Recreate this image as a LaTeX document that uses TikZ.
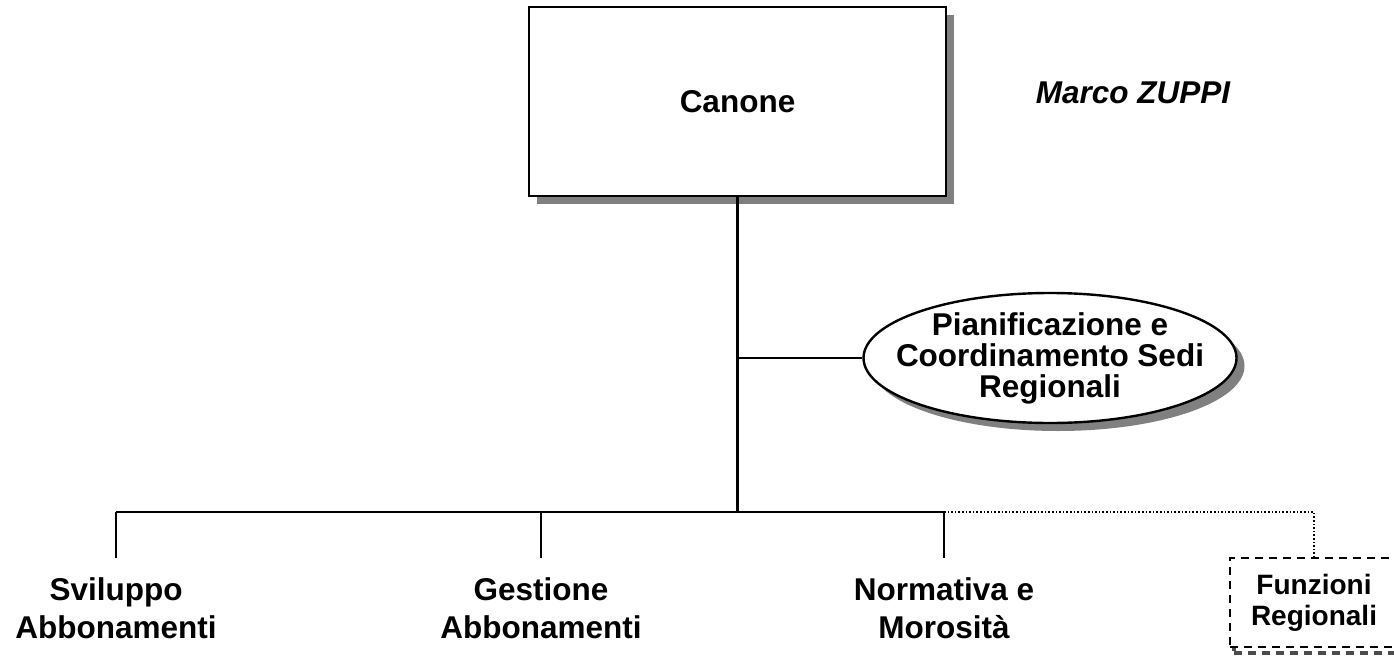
\documentclass[tikz,border=0pt]{standalone}
\usepackage{fontspec}
\setmainfont{Liberation Sans}
\usetikzlibrary{shapes.geometric,shadows}
\begin{document}
\begin{tikzpicture}[x=1pt,y=-1pt,
  lbl/.style={font=\fontsize{31.5}{38}\selectfont\bfseries, align=center},
  leaf/.style={lbl, anchor=north, inner xsep=0pt, inner ysep=19pt},
  shad/.style={drop shadow={shadow xshift=8pt, shadow yshift=-8pt, fill=black!50, opacity=1}},
  conn/.style={line width=2.2pt},
]
\useasboundingbox (0,0) rectangle (1394,661);
% top box
\node[lbl, draw, line width=2.4pt, fill=white, shad, minimum width=417pt, minimum height=189pt, inner sep=0pt] (can) at (737.5,101.5) {Canone};
% author
\node[font=\fontsize{31.5}{38}\selectfont\bfseries\itshape, anchor=base, inner sep=0pt] (auth) at (1133,103) {Marco ZUPPI};
% staff ellipse
\node[ellipse, draw, line width=2.4pt, fill=white, shad, minimum width=373pt, minimum height=130pt, inner xsep=-24pt, inner ysep=-4pt,
      font=\fontsize{31.5}{31}\selectfont\bfseries, align=center] (pcs) at (1050,358) {Pianificazione e\\Coordinamento Sedi\\Regionali};
% leaves
\node[leaf] (sv) at (116,558) {Sviluppo\\Abbonamenti};
\node[leaf] (ge) at (541,558) {Gestione\\Abbonamenti};
\node[leaf] (no) at (944,558) {Normativa e\\Morosità};
% regional functions box
\node[draw, dash pattern=on 8pt off 6pt, line width=2.4pt, fill=white,
      drop shadow={shadow xshift=4pt, shadow yshift=-6pt, fill=none, draw=black!70, line width=4pt, dash pattern=on 8pt off 6pt, opacity=1},
      minimum width=168pt, minimum height=89pt, inner sep=0pt,
      font=\fontsize{28}{31}\selectfont\bfseries, align=center] (fr) at (1314,602.5) {Funzioni\\Regionali};
% bus
\coordinate (b1) at (116,512);
\coordinate (b2) at (944,512);
\draw[conn] (can.south) -- (can.south |- b1);
\draw[conn] (can.south |- pcs.west) -- (pcs.west);
\draw[conn] (b1) -- (b2);
\draw[conn] (sv.north |- b1) -- (sv.north);
\draw[conn] (ge.north |- b1) -- (ge.north);
\draw[conn] (no.north |- b1) -- (no.north);
\draw[line width=1.6pt, dotted] (no.north |- b1) -| (fr.north);
\end{tikzpicture}
\end{document}
